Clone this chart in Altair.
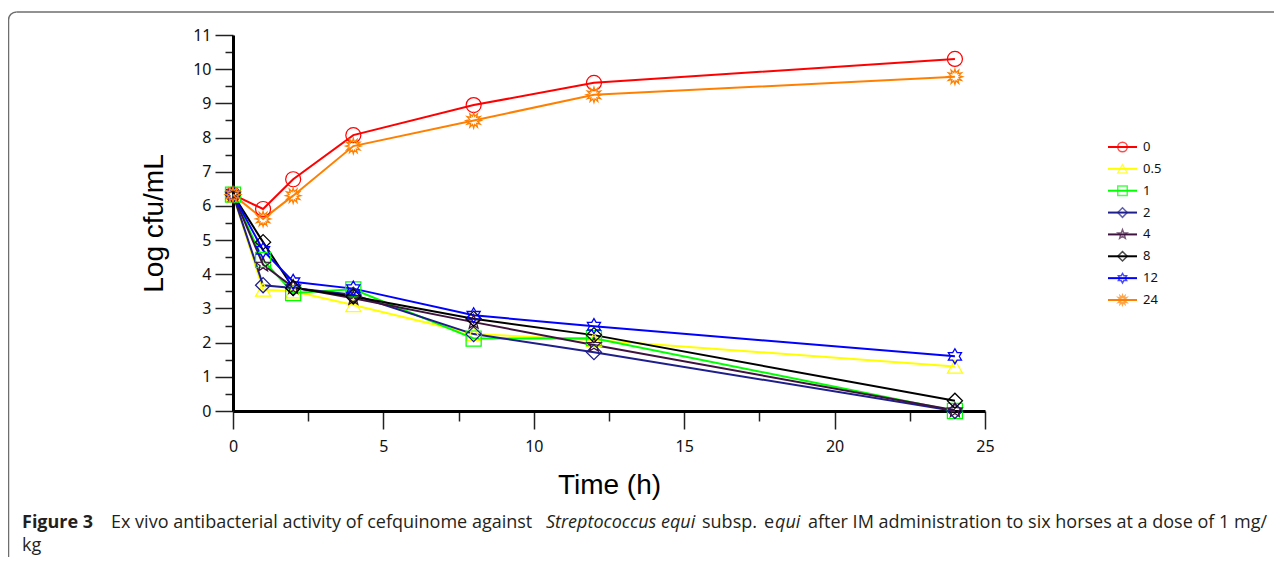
import math
import altair as alt
import pandas as pd

# ---------------- data ----------------
times = [0, 1, 2, 4, 8, 12, 24]
dose_labels = ["0", "0.5", "1", "2", "4", "8", "12", "24"]
log_0 = [6.33, 5.91, 6.78, 8.07, 8.95, 9.6, 10.3]
log_05 = [6.33, 3.55, 3.5, 3.1, 2.25, 2.08, 1.3]
log_1 = [6.33, 4.42, 3.45, 3.56, 2.12, 2.13, 0.0]
log_2 = [6.33, 3.68, 3.6, 3.4, 2.25, 1.72, 0.0]
log_4 = [6.33, 4.28, 3.62, 3.3, 2.6, 1.93, 0.02]
log_8 = [6.33, 4.94, 3.6, 3.35, 2.7, 2.22, 0.3]
log_12 = [6.33, 4.7, 3.78, 3.58, 2.8, 2.48, 1.6]
log_24 = [6.33, 5.62, 6.3, 7.75, 8.5, 9.25, 9.78]
series = [log_0, log_05, log_1, log_2, log_4, log_8, log_12, log_24]

x_major = [0, 5, 10, 15, 20, 25]
x_minor = [2.5, 7.5, 12.5, 17.5, 22.5]
y_major = list(range(0, 12))
y_minor = [i + 0.5 for i in range(0, 11)]

# ---------------- styles ----------------
colors = ["#FF0000", "#FFFF00", "#00FF00", "#1E1E8C", "#3F133F", "#000000", "#0000FF", "#FF8000"]


def star_path(n, inner):
    pts = []
    for k in range(2 * n):
        r = 1.0 if k % 2 == 0 else inner
        a = -math.pi / 2 + k * math.pi / n
        pts.append(f"{r * math.cos(a):.3f},{r * math.sin(a):.3f}")
    return "M" + " L".join(pts) + " Z"


shapes = ["circle", "triangle-up", "square", "diamond", star_path(5, 0.42),
          "diamond", star_path(6, 0.577), star_path(12, 0.55)]
sizes = [225, 230, 225, 180, 210, 140, 270, 260]
stroke_ws = [1.2, 1.3, 1.2, 1.5, 1.5, 2.2, 1.5, 1.5]

TICK_FONT = "Noto Sans"
TITLE_FONT = "Liberation Sans"
CAP_FONT = "Open Sans"
CAP_SIZE = 18
CAP_COLOR = "#231F20"

OX, OY = 233, 35  # page position of the plot origin (for decorations)
PAGE_W, PAGE_H = 1266, 549

rows = []
for lab, vals in zip(dose_labels, series):
    for t, v in zip(times, vals):
        rows.append({"time": t, "logcfu": v, "dose": lab})
df = pd.DataFrame(rows)
leg_df = pd.DataFrame({"dose": dose_labels})
one_row = pd.DataFrame({"k": [0]})

x_scale = alt.Scale(domain=[0, 25], nice=False)
y_scale = alt.Scale(domain=[0, 11], nice=False)
color_scale = alt.Scale(domain=dose_labels, range=colors)
shape_scale = alt.Scale(domain=dose_labels, range=shapes)
size_scale = alt.Scale(domain=dose_labels, range=sizes)
sw_scale = alt.Scale(domain=dose_labels, range=stroke_ws)

x_axis = alt.Axis(values=x_major, tickSize=18, tickWidth=1.5, tickColor="#222",
                  domainWidth=3, domainColor="#000", labelFont=TICK_FONT, labelFontSize=16,
                  labelColor="#111", labelPadding=9, labelFlush=False, format="d",
                  title="Time (h)", titleFont=TITLE_FONT, titleFontSize=28,
                  titleFontWeight="normal", titleColor="#000", titleY=82,
                  titleBaseline="alphabetic", grid=False, orient="bottom")
y_axis = alt.Axis(values=y_major, tickSize=18, tickWidth=1.5, tickColor="#222",
                  domainWidth=3, domainColor="#000", labelFont=TICK_FONT, labelFontSize=16,
                  labelColor="#111", labelPadding=4, labelFlush=False, format="d",
                  title="Log cfu/mL", titleFont=TITLE_FONT, titleFontSize=28,
                  titleFontWeight="normal", titleColor="#000", titleX=-71, titleY=188,
                  titleBaseline="alphabetic", grid=False, orient="left")
x_minor_axis = alt.Axis(values=x_minor, tickSize=10, tickWidth=1.5, tickColor="#222",
                        domain=False, labels=False, title=None, grid=False, orient="bottom")
y_minor_axis = alt.Axis(values=y_minor, tickSize=8, tickWidth=1.5, tickColor="#222",
                        domain=False, labels=False, title=None, grid=False, orient="left")

base = alt.Chart(df)
lines = base.mark_line(strokeWidth=2).encode(
    x=alt.X("time:Q", scale=x_scale, axis=x_axis),
    y=alt.Y("logcfu:Q", scale=y_scale, axis=y_axis),
    color=alt.Color("dose:N", scale=color_scale, legend=None),
)
points = base.mark_point(filled=False, opacity=1).encode(
    x=alt.X("time:Q", scale=x_scale, axis=None),
    y=alt.Y("logcfu:Q", scale=y_scale, axis=None),
    stroke=alt.Stroke("dose:N", scale=color_scale, legend=None),
    shape=alt.Shape("dose:N", scale=shape_scale, legend=None),
    size=alt.Size("dose:N", scale=size_scale, legend=None),
    strokeWidth=alt.StrokeWidth("dose:N", scale=sw_scale, legend=None),
)
minor = base.mark_point(opacity=0).encode(
    x=alt.X("time:Q", scale=x_scale, axis=x_minor_axis),
    y=alt.Y("logcfu:Q", scale=y_scale, axis=y_minor_axis),
)
data_layer = alt.layer(minor, lines, points).resolve_axis(x="independent", y="independent")

# ---------------- legend (own scales) ----------------
leg_y = alt.Scale(type="point", domain=dose_labels, range=[112, 265], padding=0)
leg_x = alt.Scale(domain=[0, 1], range=[875, 904])
leg_base = alt.Chart(leg_df)
leg_rules = leg_base.mark_rule(strokeWidth=2).encode(
    x=alt.X(datum=0, type="quantitative", scale=leg_x, axis=None),
    x2=alt.X2(datum=1),
    y=alt.Y("dose:N", scale=leg_y, axis=None),
    color=alt.Color("dose:N", scale=color_scale, legend=None),
)
leg_points = leg_base.mark_point(filled=False, size=90, strokeWidth=1.5).encode(
    x=alt.X(datum=0.5, type="quantitative", scale=leg_x, axis=None),
    y=alt.Y("dose:N", scale=leg_y, axis=None),
    stroke=alt.Stroke("dose:N", scale=color_scale, legend=None),
    shape=alt.Shape("dose:N", scale=shape_scale, legend=None),
)
leg_text = leg_base.mark_text(align="left", baseline="middle", dx=6, font=TICK_FONT,
                              fontSize=13, color="#111").encode(
    x=alt.X(datum=1, type="quantitative", scale=leg_x, axis=None),
    y=alt.Y("dose:N", scale=leg_y, axis=None),
    text="dose:N",
)
legend_layer = alt.layer(leg_rules, leg_points, leg_text)


# ---------------- caption & frame ----------------
def cap(txt, px, py, weight="normal", style="normal"):
    return alt.Chart(one_row).mark_text(
        text=txt, align="left", baseline="alphabetic", font=CAP_FONT, fontSize=CAP_SIZE,
        fontWeight=weight, fontStyle=style, color=CAP_COLOR,
    ).encode(x=alt.value(px - OX), y=alt.value(py - OY))


caption = [
    cap("Figure 3", 22, 528, weight="bold"),
    cap("Ex vivo antibacterial activity of cefquinome against", 111, 528),
    cap("Streptococcus equi", 546, 528, style="italic"),
    cap("subsp.", 702, 528),
    cap("e", 764, 528),
    cap("qui", 775, 528, style="italic"),
    cap("after IM administration to six horses at a dose of 1 mg/", 808, 528),
    cap("kg", 22, 551),
]

FRAME = "#6E6E6E"
frame_top = alt.Chart(one_row).mark_rule(stroke=FRAME, strokeWidth=1.5).encode(
    x=alt.value(16.5 - OX), x2=alt.value(1290 - OX), y=alt.value(12 - OY))
frame_left = alt.Chart(one_row).mark_rule(stroke=FRAME, strokeWidth=1.5).encode(
    x=alt.value(8.5 - OX), y=alt.value(20 - OY), y2=alt.value(600 - OY))
frame_corner = alt.Chart(one_row).mark_point(
    shape="M -1 1 A 2 2 0 0 1 1 -1", filled=False, stroke=FRAME, strokeWidth=1.5,
    size=64, opacity=1).encode(x=alt.value(12.5 - OX), y=alt.value(16 - OY))

chart = alt.layer(
    data_layer, legend_layer, *caption, frame_top, frame_left, frame_corner
).resolve_scale(
    x="independent", y="independent"
).properties(
    width=752, height=376,
    autosize=alt.AutoSizeParams(type="none"),
    padding={"left": OX - 8, "top": OY - 8,
             "right": PAGE_W - (OX - 8) - 752, "bottom": PAGE_H - (OY - 8) - 376},
).configure_view(stroke=None)

chart.save("out.html", embed_options={"renderer": "svg", "actions": False})
